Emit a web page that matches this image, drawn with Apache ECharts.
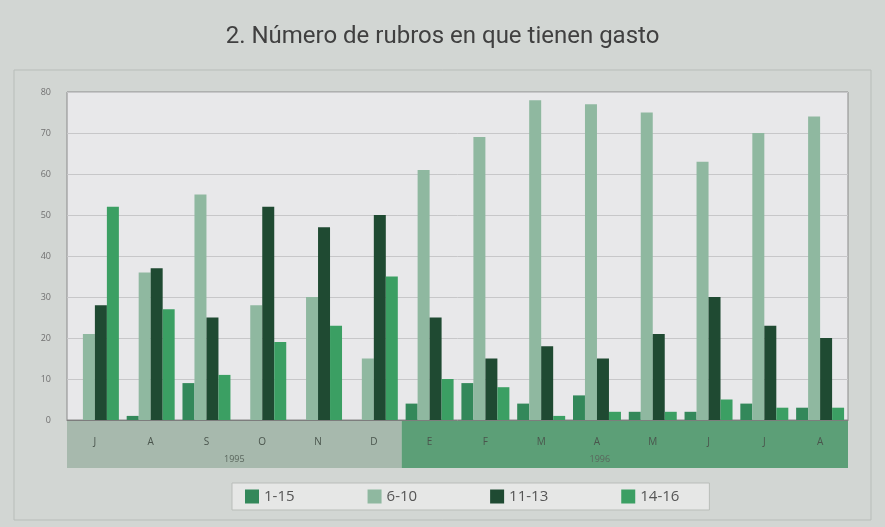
<!DOCTYPE html>
<html>
<head>
<meta charset="utf-8">
<script src="https://cdn.jsdelivr.net/npm/echarts@6/dist/echarts.min.js"></script>
<style>
  html, body { margin: 0; padding: 0; background: #d2d6d3; }
  #chart { width: 885px; height: 527px; }
</style>
</head>
<body>
<div id="chart"></div>
<script>
var months = ["J", "A", "S", "O", "N", "D", "E", "F", "M", "A", "M", "J", "J", "A"];
var years = ["1995", "1996"];
var yearStart = [0, 6];
var yearEnd = [5, 13];

var s1_15 = [0, 1, 9, 0, 0, 0, 4, 9, 4, 6, 2, 2, 4, 3];
var s6_10 = [21, 36, 55, 28, 30, 15, 61, 69, 78, 77, 75, 63, 70, 74];
var s11_13 = [28, 37, 25, 52, 47, 50, 25, 15, 18, 15, 21, 30, 23, 20];
var s14_16 = [52, 27, 11, 19, 23, 35, 10, 8, 1, 2, 2, 5, 3, 3];

var colors = ["#33885a", "#8fb8a0", "#1f4a32", "#3b9f63"];

var dom = document.getElementById("chart");
var myChart = echarts.init(dom, null, { renderer: "canvas" });

function bar(name, data) {
  return {
    name: name,
    type: "bar",
    data: data,
    barGap: "0%",
    barCategoryGap: "14%",
    animation: false
  };
}

var option = {
  backgroundColor: "#d2d6d3",
  color: colors,
  title: {
    text: "2. Número de rubros en que tienen gasto",
    left: "center",
    top: 20,
    textStyle: { fontFamily: "Roboto", fontSize: 24, fontWeight: "normal", color: "#404040" }
  },
  grid: { left: 67, right: 37, top: 92, bottom: 107, show: true, backgroundColor: "#e8e8ea", borderColor: "#8a8a8a", borderWidth: 1 },
  legend: {
    bottom: 17,
    left: 232,
    itemWidth: 14,
    itemHeight: 14,
    itemGap: 73,
    padding: [6, 30, 6, 13],
    backgroundColor: "#e6e7e6",
    borderColor: "#b9bdb9",
    borderWidth: 1,
    icon: "rect",
    textStyle: { fontFamily: "Open Sans", fontSize: 15, color: "#555" },
    data: ["1-15", "6-10", "11-13", "14-16"]
  },
  xAxis: {
    type: "category",
    data: months,
    axisLine: { lineStyle: { color: "#7d7d7d" } },
    axisTick: { show: false },
    axisLabel: { fontFamily: "Open Sans", fontSize: 10, color: "#4a554d", margin: 17 }
  },
  yAxis: {
    type: "value",
    min: 0,
    max: 80,
    interval: 10,
    axisLine: { show: false },
    axisTick: { show: false },
    axisLabel: { fontFamily: "Open Sans", fontSize: 9, color: "#707070", margin: 16 },
    splitLine: { lineStyle: { color: "#c7c7c9" } }
  },
  series: [
    bar("1-15", s1_15),
    bar("6-10", s6_10),
    bar("11-13", s11_13),
    bar("14-16", s14_16)
  ]
};
myChart.setOption(option);

// month band and year labels under the axis
var half = (myChart.convertToPixel({ xAxisIndex: 0 }, 1) - myChart.convertToPixel({ xAxisIndex: 0 }, 0)) / 2;
var y0 = myChart.convertToPixel({ yAxisIndex: 0 }, 0);
var bandColors = ["#a7b9ad", "#5c9f77"];
var graphics = [
  { type: "rect", shape: { x: 14, y: 70, width: 857, height: 450 }, style: { fill: "none", stroke: "#b8bdb9", lineWidth: 1 }, z: -1 }
];
for (var i = 0; i < years.length; i++) {
  var xa = myChart.convertToPixel({ xAxisIndex: 0 }, yearStart[i]) - half;
  var xb = myChart.convertToPixel({ xAxisIndex: 0 }, yearEnd[i]) + half;
  graphics.push({
    type: "rect",
    shape: { x: xa, y: y0 + 1, width: xb - xa, height: 47 },
    style: { fill: bandColors[i] },
    z: -1
  });
  graphics.push({
    type: "text",
    x: (xa + xb) / 2 - (i == 1 ? 25 : 0),
    y: y0 + 39,
    style: { text: years[i], fill: "#5a665d", font: "9px 'Open Sans'", textAlign: "center", textVerticalAlign: "middle" }
  });
}
myChart.setOption({ graphic: graphics });
</script>
</body>
</html>
